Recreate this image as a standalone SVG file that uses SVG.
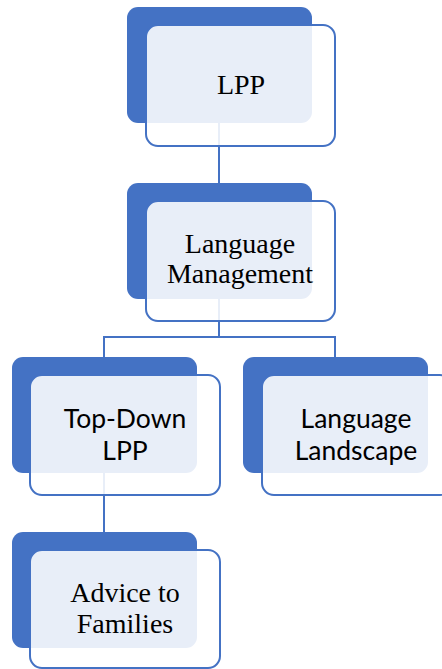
<svg xmlns="http://www.w3.org/2000/svg" width="442" height="669" viewBox="0 0 442 669">
<style>
.bg{fill:#4472C4;}
.fr{fill:#FFFFFF;fill-opacity:0.88;stroke:#4472C4;stroke-width:2;}
.cn{stroke:#4472C4;stroke-width:2;fill:none;}
.serif{font-family:"Liberation Serif","Times New Roman",serif;font-size:28px;fill:#000;text-anchor:middle;}
.sans{font-family:Lato,"Liberation Sans",sans-serif;font-size:26.5px;fill:#000;text-anchor:middle;}
</style>
<rect width="442" height="669" fill="#FFFFFF"/>
<g id="back-shapes">
<rect class="bg" x="127" y="7" width="185" height="116" rx="11"/>
<rect class="bg" x="127" y="183" width="185" height="116" rx="11"/>
<rect class="bg" x="12" y="357" width="185" height="116" rx="11"/>
<rect class="bg" x="243" y="357" width="185" height="116" rx="11"/>
<rect class="bg" x="12" y="532" width="185" height="116" rx="11"/>
</g>
<g id="connectors">
<line class="cn" x1="219" y1="123" x2="219" y2="184"/>
<polyline class="cn" points="219,299 219,337 104,337 104,358"/>
<polyline class="cn" points="219,337 335,337 335,358"/>
<line class="cn" x1="104" y1="473" x2="104" y2="533"/>
</g>
<g id="node-lpp">
<rect class="fr" x="146" y="25" width="189" height="121" rx="12"/>
<text class="serif" x="241" y="94">LPP</text>
</g>
<g id="node-language-management">
<rect class="fr" x="146" y="201" width="189" height="120" rx="12"/>
<text class="serif" x="240" y="253">Language</text>
<text class="serif" x="240" y="283">Management</text>
</g>
<g id="node-top-down">
<rect class="fr" x="30" y="375" width="190" height="120" rx="12"/>
<text class="sans" x="125" y="428">Top-Down</text>
<text class="sans" x="125" y="460">LPP</text>
</g>
<g id="node-language-landscape">
<rect class="fr" x="262" y="375" width="190" height="120" rx="12"/>
<text class="sans" x="356" y="428">Language</text>
<text class="sans" x="356" y="460">Landscape</text>
</g>
<g id="node-advice">
<rect class="fr" x="30" y="550" width="190" height="118" rx="12"/>
<text class="serif" x="125" y="602">Advice to</text>
<text class="serif" x="125" y="633">Families</text>
</g>
</svg>
